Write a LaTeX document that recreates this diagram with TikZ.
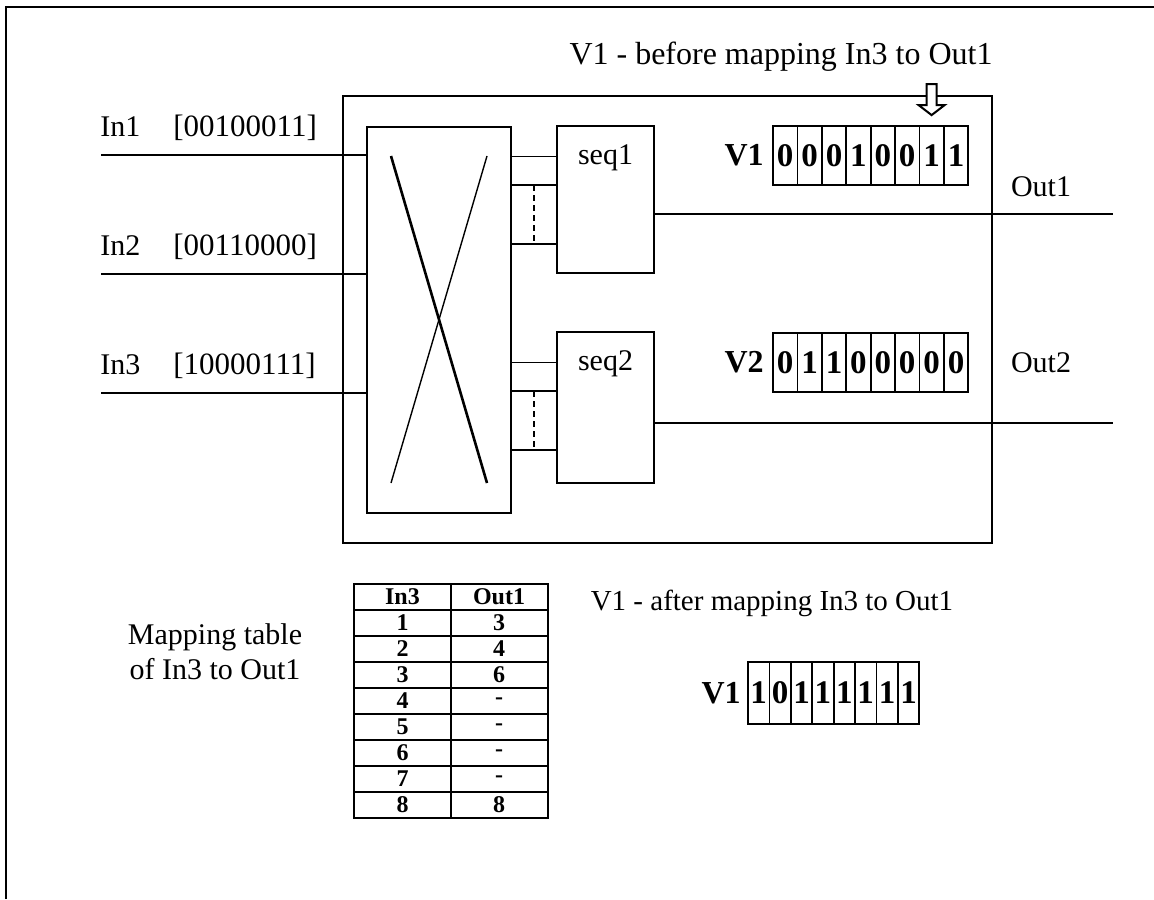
\documentclass[tikz,border=0pt]{standalone}
\usepackage{fontspec}
\setmainfont{Liberation Serif}
\usetikzlibrary{positioning}

\begin{document}
\begin{tikzpicture}[x=0.5pt,y=-0.5pt,
        box/.style={draw,line width=1.3pt,inner sep=0pt,outer sep=0pt},
        lbl/.style={inner sep=0pt,font=\fontsize{15}{17.5}\selectfont},
        reg/.style={inner sep=0pt,font=\fontsize{16}{16}\selectfont\bfseries},
        bit/.style={draw,line width=0.9pt,inner sep=0pt,minimum width=12.2pt,minimum height=29.5pt,font=\fontsize{16.5}{16.5}\selectfont\bfseries},
        tab/.style={draw,line width=1pt,inner sep=0pt,minimum width=48.5pt,minimum height=13pt,font=\fontsize{12}{12}\selectfont\bfseries},
        wire/.style={line width=1.2pt},
        bus/.style={line width=1.3pt}]
        \useasboundingbox (0,0) rectangle (1154,899);
        \draw[line width=1pt] (6,899) -- (6,7) -- (1154,7);
        \node[box,minimum width=324.5pt,minimum height=223.5pt] (chip) at (667.5,319.5) {};
        \node[box,minimum width=72pt,minimum height=193pt] (xbar) at (439,320) {};
        \node[box,minimum width=48.5pt,minimum height=73.5pt] (seq1) at (605.5,199.5) {};
        \node[box,minimum width=48.5pt,minimum height=75.5pt] (seq2) at (605.5,407.5) {};
        \node[lbl] (seq1lbl) at ([yshift=-16pt]seq1.north) {seq1};
        \node[lbl] (seq2lbl) at ([yshift=-16pt]seq2.north) {seq2};
        \draw[line width=1.3pt] ([xshift=12pt,yshift=-14.5pt]xbar.north west) -- ([xshift=-12pt,yshift=15pt]xbar.south east);
        \draw[line width=0.7pt] ([xshift=-12pt,yshift=-14.5pt]xbar.north east) -- ([xshift=12pt,yshift=15pt]xbar.south west);
        \foreach \n/\y/\v in {1/155/00100011,2/274/00110000,3/393/10000111} {
                \coordinate (in\n) at (101,\y);
                \draw[wire] (in\n) -- (in\n -| xbar.west);
                \node[lbl,anchor=base west] (in\n lbl) at (100,\y-19) {In\n};
                \node[lbl,anchor=base west,font=\fontsize{15.5}{15.5}\selectfont] (in\n val) at (173,\y-19) {[\v]};
        }
        \foreach \s in {seq1,seq2} {
                \coordinate (\s t) at ([yshift=-15pt]\s.north west);
                \coordinate (\s a) at ([yshift=-29.5pt]\s.north west);
                \coordinate (\s b) at ([yshift=-59pt]\s.north west);
                \draw[line width=0.5pt] (\s t) -- (\s t -| xbar.east);
                \draw[bus] (\s a) -- (\s a -| xbar.east) coordinate[midway] (\s m);
                \draw[bus] (\s b) -- (\s b -| xbar.east);
                \draw[bus,dash pattern=on 3pt off 2pt] (\s m) -- (\s m |- \s b);
        }
        \coordinate (out1) at (1113,214);
        \coordinate (out2) at (1113,423);
        \draw[wire] (out1 -| seq1.east) -- (out1);
        \draw[wire] (out2 -| seq2.east) -- (out2);
        \node[lbl] (out1lbl) at (1041,187) {Out1};
        \node[lbl] (out2lbl) at (1041,363) {Out2};
        \foreach \b [count=\i] in {0,0,0,1,0,0,1,1}
                \node[bit] (va\i) at (773+24.4*\i-12.2,155.5) {\b};
        \node[reg,left=4pt of va1] (valbl) {V1};
        \foreach \b [count=\i] in {0,1,1,0,0,0,0,0}
                \node[bit] (vb\i) at (773+24.4*\i-12.2,362.5) {\b};
        \node[reg,left=4pt of vb1] (vblbl) {V2};
        \coordinate (ptr) at ([yshift=5pt]va7.north);
        \draw[line width=1pt,fill=white] (ptr) -- ++(-13,-10) -- ++(8,0) -- ++(0,-21) -- ++(10,0) -- ++(0,21) -- ++(8,0) -- cycle;
        \node[lbl,font=\fontsize{16}{16}\selectfont] (before) at (781,57) {V1 - before mapping In3 to Out1};
        \node[lbl,font=\fontsize{14.5}{14.5}\selectfont] (after) at (772,603) {V1 - after mapping In3 to Out1};
        \foreach \b [count=\i] in {1,0,1,1,1,1,1,1}
                \node[bit,minimum width=10.7pt,minimum height=31pt] (vc\i) at (748+21.4*\i-10.7,693) {\b};
        \node[reg,left=3pt of vc1] (vclbl) {V1};
        \node[lbl,align=center] (maplbl) at (215,652) {Mapping table\\of In3 to Out1};
        \foreach \a/\b [count=\r from 0] in {In3/Out1,1/3,2/4,3/6,4/-,5/-,6/-,7/-,8/8} {
                \node[tab] (ta\r) at (402.5,597+26*\r) {\a};
                \node[tab] (tb\r) at (499,597+26*\r) {\b};
        }
\end{tikzpicture}
\end{document}
